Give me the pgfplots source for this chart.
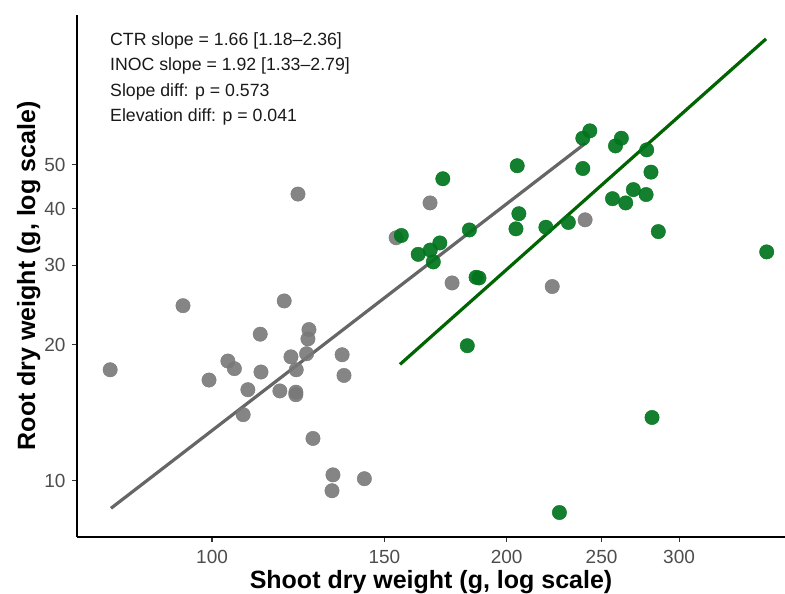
\documentclass[border=0pt]{standalone}
\usepackage{pgfplots}
\pgfplotsset{compat=1.18}
\usepackage{fontspec}
\setmainfont{Liberation Sans}
\definecolor{ctrpt}{HTML}{787878}
\definecolor{ctrline}{HTML}{666666}
\definecolor{inocpt}{HTML}{00741C}
\definecolor{inocline}{HTML}{006400}
\definecolor{ticktext}{HTML}{4D4D4D}

\begin{document}
\begin{tikzpicture}
\begin{axis}[
  scale only axis, width=708pt, height=522pt,
  xmode=log, ymode=log,
  xmin=72.8, xmax=384.9, ymin=7.504, ymax=107.4,
  axis x line*=bottom, axis y line*=left,
  axis line style={line width=1.3pt, black, -},
  xtick={100,150,200,250,300}, xticklabels={100,150,200,250,300},
  ytick={10,20,30,40,50}, yticklabels={10,20,30,40,50},
  xminorticks=false, yminorticks=false,
  tick align=outside, major tick length=5pt,
  tick style={line width=1.1pt, color=black!80},
  tick label style={font=\fontsize{19}{22}\selectfont, color=ticktext},
  xticklabel style={yshift=-5pt},
  yticklabel style={xshift=-3pt},
  xlabel={Shoot dry weight (g, log scale)},
  ylabel={Root dry weight (g, log scale)},
  label style={font=\bfseries\fontsize{25}{30}\selectfont},
  xlabel style={at={([yshift=-52pt]axis description cs:0.5,0)}, anchor=base},
  ylabel style={at={([xshift=-42pt]axis description cs:0,0.5)}, anchor=base},
  clip=false,
]
% CTR points
\addplot[only marks, mark=*, mark size=7.2pt, color=ctrpt, mark options={draw=none, fill opacity=0.9}]
  coordinates {(78.7,17.6) (93.4,24.4) (99.3,16.7) (103.8,18.4) (105.4,17.7) (107.6,14.0)
  (108.8,15.9) (112.0,21.1) (112.2,17.4) (117.3,15.8) (118.5,25.0) (120.4,18.8)
  (121.9,17.6) (121.8,15.7) (121.8,15.5) (124.9,19.1) (125.3,20.6) (125.6,21.6)
  (126.8,12.4) (132.9,10.3) (132.6,9.5) (135.8,19.0) (136.4,17.1) (143.1,10.1)
  (122.4,43.1) (154.2,34.5) (167.0,41.2) (175.9,27.4) (222.6,26.9) (240.5,37.8)};
% INOC points
\addplot[only marks, mark=*, mark size=7.2pt, color=inocpt, mark options={draw=none, fill opacity=0.92}]
  coordinates {(368.7,32.1) (243.2,59.5) (239.2,57.3) (261.9,57.3) (258.3,55.1) (278.0,54.0)
  (205.0,49.8) (239.2,49.1) (280.8,48.2) (172.1,46.6) (269.4,44.1) (277.6,43.0)
  (256.5,42.1) (264.6,41.2) (205.8,39.0) (204.4,36.1) (219.3,36.4) (231.2,37.3)
  (285.7,35.6) (183.2,35.9) (156.1,34.9) (162.4,31.7) (167.1,32.4) (170.9,33.6)
  (168.3,30.5) (186.1,28.2) (187.4,28.1) (182.3,19.9) (281.5,13.8) (226.4,8.5)};
% fitted lines
\addplot[ctrline, line width=3.2pt, no marks] coordinates {(78.86,8.687) (240.7,55.86)};
\addplot[inocline, line width=3.2pt, no marks] coordinates {(155.6,18.09) (368.1,95.08)};

\node[anchor=base west, inner sep=0, font=\fontsize{17.7}{21}\selectfont, text=black!90]
  at (rel axis cs:0.0466,0.9414) {CTR slope = 1.66 [1.18\textendash 2.36]};
\node[anchor=base west, inner sep=0, font=\fontsize{17.7}{21}\selectfont, text=black!90]
  at (rel axis cs:0.0466,0.8927) {INOC slope = 1.92 [1.33\textendash 2.79]};
\node[anchor=base west, inner sep=0, font=\fontsize{17.7}{21}\selectfont, text=black!90]
  at (rel axis cs:0.0466,0.8443) {Slope diff: p = 0.573};
\node[anchor=base west, inner sep=0, font=\fontsize{17.7}{21}\selectfont, text=black!90]
  at (rel axis cs:0.0466,0.7958) {Elevation diff: p = 0.041};
\end{axis}
\pgfresetboundingbox
\path[use as bounding box] ([xshift=-77pt,yshift=-57pt]current axis.south west)
  rectangle ([yshift=15pt]current axis.north east);
\end{tikzpicture}
\end{document}
